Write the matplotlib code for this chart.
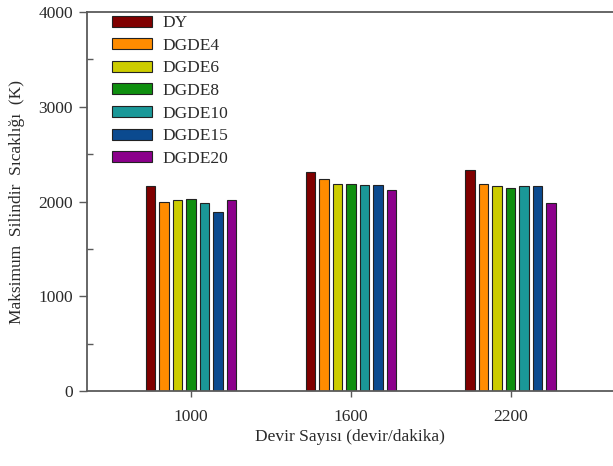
import numpy as np
import matplotlib.pyplot as plt
from matplotlib.ticker import MultipleLocator

plt.rcParams['font.family'] = ['Liberation Serif', 'DejaVu Serif']

devir = ['1000', '1600', '2200']
y_ticks = [0, 1000, 2000, 3000, 4000]
yakitlar = ['DY', 'DGDE4', 'DGDE6', 'DGDE8', 'DGDE10', 'DGDE15', 'DGDE20']
renkler = ['#800000', '#ff8c00', '#cccc00', '#0f8f0f', '#1a9898', '#0b4a8f', '#8b008b']

# maksimum silindir sicakligi (K), her yakit icin 1000/1600/2200 dev/dak
sicaklik = {
    'DY':     [2160, 2317, 2328],
    'DGDE4':  [1993, 2233, 2190],
    'DGDE6':  [2018, 2190, 2169],
    'DGDE8':  [2032, 2183, 2145],
    'DGDE10': [1986, 2173, 2162],
    'DGDE15': [1887, 2173, 2162],
    'DGDE20': [2021, 2127, 1989],
}

fig = plt.figure(figsize=(6.13, 4.66), dpi=100)
ax = fig.add_axes([0.142, 0.161, 0.858, 0.813])

x = np.arange(len(devir))
adim = 0.0845
genislik = 0.06
for i, (ad, renk) in enumerate(zip(yakitlar, renkler)):
    ofset = (i - (len(yakitlar) - 1) / 2) * adim
    ax.bar(x + ofset, sicaklik[ad], width=genislik, color=renk,
           edgecolor='#222222', linewidth=0.8, label=ad, zorder=2)

ax.set_xlim(-0.65, 2.64)
ax.set_ylim(0, 4000)
ax.set_xticks(x)
ax.set_xticklabels(devir)
ax.set_yticks(y_ticks)
ax.set_yticklabels([str(v) for v in y_ticks])
ax.yaxis.set_minor_locator(MultipleLocator(500))

yazi = '#2a2a2a'
cizgi = '#5a5a5a'
for s in ['left', 'bottom', 'top']:
    ax.spines[s].set_color(cizgi)
    ax.spines[s].set_linewidth(1.3)
ax.spines['right'].set_visible(False)

ax.tick_params(axis='y', which='major', direction='out', length=6, width=1,
               color=cizgi, labelsize=12.5, labelcolor=yazi, pad=4)
ax.tick_params(axis='y', which='minor', direction='in', length=4, width=1,
               color=cizgi)
ax.tick_params(axis='x', which='major', direction='out', length=4, width=1,
               color=cizgi, labelsize=12.5, labelcolor=yazi, pad=9)

ax.set_xlabel('Devir Sayısı (devir/dakika)', fontsize=12.5, color=yazi, labelpad=3)
ax.set_ylabel('Maksimum  Silindir  Sıcaklığı  (K)', fontsize=12.5, color=yazi,
              labelpad=10)

ax.legend(loc='upper left', bbox_to_anchor=(0.047, 0.992), frameon=False,
          fontsize=12.5, handlelength=2.3, handleheight=0.6, handletextpad=0.6,
          labelspacing=0.38, borderpad=0, borderaxespad=0, labelcolor=yazi)

fig.savefig('out.png', dpi=100)
